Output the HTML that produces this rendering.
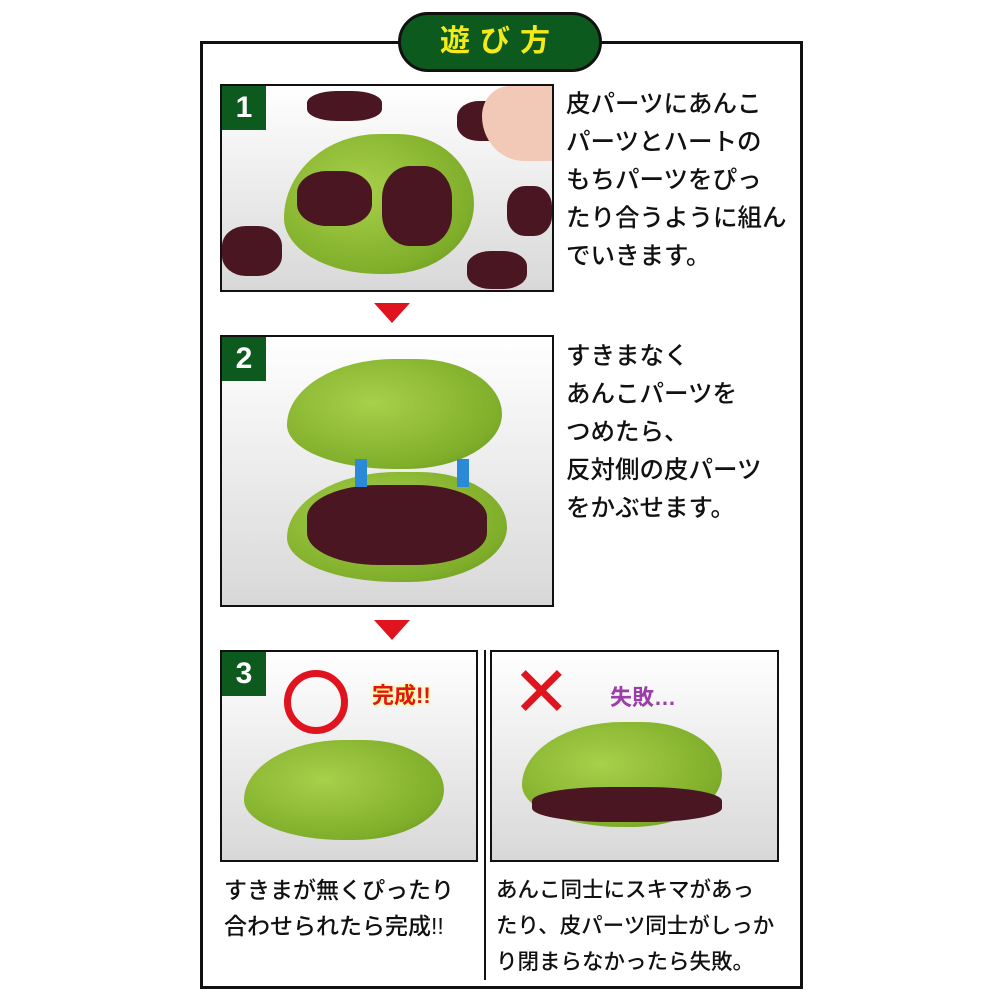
<!DOCTYPE html><html><head><meta charset="utf-8"><style>
body{margin:0;width:1000px;height:1000px;background:#fff;position:relative;overflow:hidden;font-family:"Liberation Sans","Noto Sans CJK JP",sans-serif}
.a{position:absolute}
.box{position:absolute;border:2px solid #111;background:linear-gradient(#fff,#d8d8d8);overflow:hidden}
.badge{position:absolute;left:0;top:0;width:44px;height:44px;background:#0d5a1e;color:#fff;font-weight:bold;font-size:30px;text-align:center;line-height:44px}
.t{position:absolute;font-size:24.5px;line-height:38px;color:#111;white-space:nowrap;font-weight:500}
.tri{position:absolute;width:0;height:0;border-left:18px solid transparent;border-right:18px solid transparent;border-top:20px solid #e0141e}
.fish{position:absolute;background:radial-gradient(ellipse at 40% 40%,#a8d04a,#7fae2a 70%,#5e8a1a);border-radius:50% 40% 45% 50%/60% 50% 50% 40%}
.bean{position:absolute;background:#4a1622;border-radius:40%}
</style></head><body>
<div class="a" style="left:200px;top:41px;width:597px;height:942px;border:3px solid #111"></div>
<div class="a" style="left:398px;top:12px;width:198px;height:54px;border:3px solid #111;border-radius:30px;background:#0d5a1e;color:#f4ea1a;font-weight:bold;font-size:30px;text-align:center;line-height:54px;letter-spacing:10px">遊び方</div>

<div class="box" style="left:220px;top:84px;width:330px;height:204px">
<div class="fish" style="left:62px;top:48px;width:190px;height:140px"></div>
<div class="bean" style="left:75px;top:85px;width:75px;height:55px"></div>
<div class="bean" style="left:160px;top:80px;width:70px;height:80px"></div>
<div class="bean" style="left:85px;top:5px;width:75px;height:30px"></div>
<div class="bean" style="left:235px;top:15px;width:55px;height:40px"></div>
<div class="bean" style="left:0;top:140px;width:60px;height:50px"></div>
<div class="bean" style="left:245px;top:165px;width:60px;height:38px"></div>
<div class="bean" style="left:285px;top:100px;width:45px;height:50px"></div>
<div class="a" style="left:260px;top:0;width:70px;height:75px;background:#f1c9b6;border-radius:40% 0 0 60%"></div>
<div class="badge">1</div></div>
<div class="t" style="left:566px;top:86px">皮パーツにあんこ<br>パーツとハートの<br>もちパーツをぴっ<br>たり合うように組ん<br>でいきます。</div>
<div class="tri" style="left:374px;top:303px"></div>

<div class="box" style="left:220px;top:335px;width:330px;height:268px">
<div class="fish" style="left:65px;top:22px;width:215px;height:110px"></div>
<div class="fish" style="left:65px;top:135px;width:220px;height:110px"></div>
<div class="bean" style="left:85px;top:148px;width:180px;height:80px"></div>
<div class="a" style="left:133px;top:122px;width:12px;height:28px;background:#2a8ad8"></div>
<div class="a" style="left:235px;top:122px;width:12px;height:28px;background:#2a8ad8"></div>
<div class="badge">2</div></div>
<div class="t" style="left:566px;top:338px">すきまなく<br>あんこパーツを<br>つめたら、<br>反対側の皮パーツ<br>をかぶせます。</div>
<div class="tri" style="left:374px;top:620px"></div>

<div class="box" style="left:220px;top:650px;width:254px;height:208px">
<div class="fish" style="left:22px;top:88px;width:200px;height:100px"></div>
<div class="a" style="left:62px;top:18px;width:50px;height:50px;border:7px solid #e0141e;border-radius:50%"></div>
<div class="a" style="left:150px;top:26px;font-size:22px;font-weight:bold;color:#e0141e;text-shadow:0 0 3px #ff0">完成!!</div>
<div class="badge">3</div></div>
<div class="a" style="left:484px;top:650px;width:2px;height:330px;background:#111"></div>
<div class="box" style="left:490px;top:650px;width:285px;height:208px">
<div class="fish" style="left:30px;top:70px;width:200px;height:105px"></div>
<div class="bean" style="left:40px;top:135px;width:190px;height:35px"></div>
<div class="a" style="left:20px;top:0px;font-size:70px;color:#e0141e;line-height:80px">✕</div>
<div class="a" style="left:118px;top:28px;font-size:22px;font-weight:bold;color:#9b3fa8">失敗…</div>
</div>
<div class="t" style="left:224px;top:872px;font-size:23px;line-height:36px">すきまが無くぴったり<br>合わせられたら完成!!</div>
<div class="t" style="left:496px;top:872px;font-size:21.5px;line-height:36px">あんこ同士にスキマがあっ<br>たり、皮パーツ同士がしっか<br>り閉まらなかったら失敗。</div>
</body></html>
